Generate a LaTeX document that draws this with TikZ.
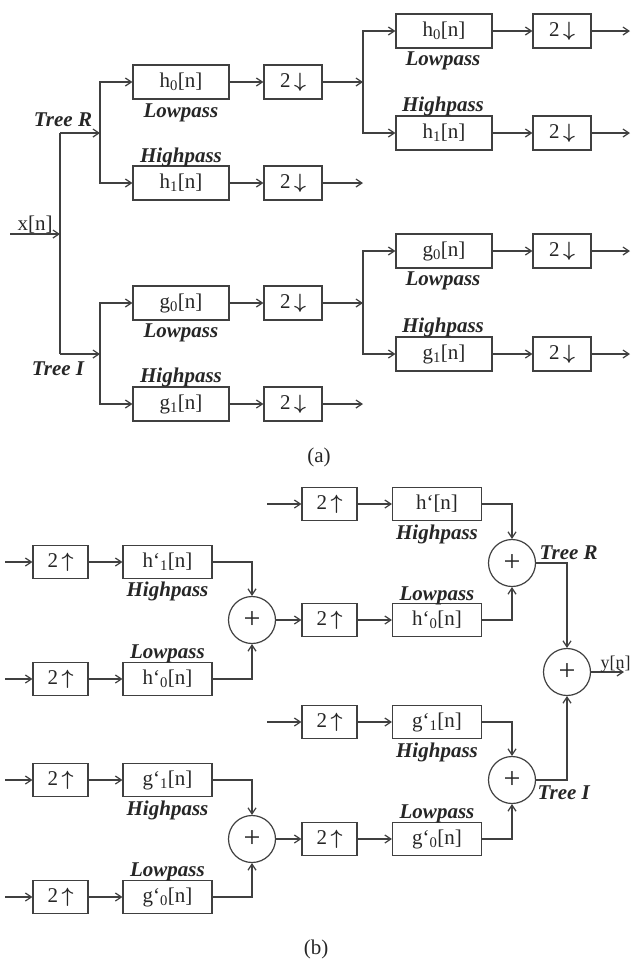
\documentclass[tikz,border=0pt]{standalone}
\usepackage{fontspec}
\setmainfont{Liberation Serif}
\usetikzlibrary{arrows.meta}
\newcommand{\dnarr}{\,{\boldmath$\downarrow$}}
\newcommand{\uparr}{\,{\boldmath$\uparrow$}}
\begin{document}
\begin{tikzpicture}[x=1pt,y=-1pt,
  line width=1.2pt, draw=black!75,
  >={Straight Barb[length=6pt,width=8pt]},
  every node/.style={text=black!85, font=\fontsize{21}{24}\selectfont},
  filt/.style={draw=black!75, rectangle, minimum width=96pt, minimum height=34pt, inner sep=0pt},
  dec/.style={draw=black!75, rectangle, minimum width=58pt, minimum height=34pt, inner sep=0pt},
  filtb/.style={draw=black!75, rectangle, minimum width=89pt, minimum height=33pt, inner sep=0pt},
  upb/.style={draw=black!75, rectangle, minimum width=55pt, minimum height=33pt, inner sep=0pt},
  sumc/.style={draw=black!75, circle, minimum size=47pt, inner sep=0pt, font=\fontsize{30}{30}\selectfont},
  lbl/.style={anchor=base, inner sep=0pt, font=\fontsize{21}{24}\selectfont\bfseries\itshape},
  lblw/.style={anchor=base west, inner sep=0pt, font=\fontsize{21}{24}\selectfont\bfseries\itshape},
  plain/.style={anchor=base, inner sep=0pt}
]
\useasboundingbox (0,0) rectangle (632,962);

% ---------------- (a) ----------------
\node[plain] (xn) at (35,230) {x[n]};
\coordinate (xin) at (10,234);
\coordinate (j0) at (60,234);
\coordinate (jR) at (60,133);
\coordinate (jI) at (60,354);
\coordinate (bR) at (100,133);
\coordinate (bI) at (100,354);
\draw[->] (xin) -- (j0);
\draw (jR) -- (jI);
\draw[->] (jR) -- (bR);
\draw[->] (jI) -- (bI);
\node[lbl] (treeRa) at (63,126) {Tree R};
\node[lbl] (treeIa) at (58,375) {Tree I};

% tree R level 1
\node[filt] (hR0) at (181,82) {h\textsubscript{0}[n]};
\node[dec] (dR0) at (293,82) {2\dnarr};
\node[filt] (hR1) at (181,183) {h\textsubscript{1}[n]};
\node[dec] (dR1) at (293,183) {2\dnarr};
\node[lbl] (lR0) at (181,117) {Lowpass};
\node[lbl] (lR1) at (181,162) {Highpass};
\draw[->] (bR) |- (hR0.west);
\draw[->] (bR) |- (hR1.west);
\draw[->] (hR0) -- (dR0);
\draw[->] (hR1) -- (dR1);
\coordinate (cR) at (363,82);
\coordinate (oR1) at (363,183);
\draw[->] (dR0) -- (cR);
\draw[->] (dR1) -- (oR1);

% tree R level 2
\node[filt] (hh0) at (444,31) {h\textsubscript{0}[n]};
\node[dec] (dh0) at (562,31) {2\dnarr};
\node[filt] (hh1) at (444,133) {h\textsubscript{1}[n]};
\node[dec] (dh1) at (562,133) {2\dnarr};
\node[lbl] (lh0) at (443,65) {Lowpass};
\node[lbl] (lh1) at (443,111) {Highpass};
\draw[->] (cR) |- (hh0.west);
\draw[->] (cR) |- (hh1.west);
\draw[->] (hh0) -- (dh0);
\draw[->] (hh1) -- (dh1);
\coordinate (oh0) at (630,31);
\coordinate (oh1) at (630,133);
\draw[->] (dh0) -- (oh0);
\draw[->] (dh1) -- (oh1);

% tree I level 1
\node[filt] (gI0) at (181,303) {g\textsubscript{0}[n]};
\node[dec] (dI0) at (293,303) {2\dnarr};
\node[filt] (gI1) at (181,404) {g\textsubscript{1}[n]};
\node[dec] (dI1) at (293,404) {2\dnarr};
\node[lbl] (lI0) at (181,337) {Lowpass};
\node[lbl] (lI1) at (181,382) {Highpass};
\draw[->] (bI) |- (gI0.west);
\draw[->] (bI) |- (gI1.west);
\draw[->] (gI0) -- (dI0);
\draw[->] (gI1) -- (dI1);
\coordinate (cI) at (363,303);
\coordinate (oI1) at (363,404);
\draw[->] (dI0) -- (cI);
\draw[->] (dI1) -- (oI1);

% tree I level 2
\node[filt] (gg0) at (444,251) {g\textsubscript{0}[n]};
\node[dec] (dg0) at (562,251) {2\dnarr};
\node[filt] (gg1) at (444,354) {g\textsubscript{1}[n]};
\node[dec] (dg1) at (562,354) {2\dnarr};
\node[lbl] (lg0) at (443,285) {Lowpass};
\node[lbl] (lg1) at (443,332) {Highpass};
\draw[->] (cI) |- (gg0.west);
\draw[->] (cI) |- (gg1.west);
\draw[->] (gg0) -- (dg0);
\draw[->] (gg1) -- (dg1);
\coordinate (og0) at (630,251);
\coordinate (og1) at (630,354);
\draw[->] (dg0) -- (og0);
\draw[->] (dg1) -- (og1);

\node[plain] (capa) at (319,462) {(a)};

% ---------------- (b) ----------------
% left column, h part
\coordinate (in1) at (5,562);
\coordinate (in2) at (5,679);
\coordinate (in3) at (5,780);
\coordinate (in4) at (5,897);
\node[upb] (u1) at (60.5,562) {2\uparr};
\node[filtb] (f1) at (167.5,562) {h‘\textsubscript{1}[n]};
\node[upb] (u2) at (60.5,679) {2\uparr};
\node[filtb] (f2) at (167.5,679) {h‘\textsubscript{0}[n]};
\node[lbl] (lf1) at (167.5,596) {Highpass};
\node[lbl] (lf2) at (167.5,658) {Lowpass};
\node[sumc] (s1) at (252,620) {+};
\draw[->] (in1) -- (u1);
\draw[->] (u1) -- (f1);
\draw[->] (in2) -- (u2);
\draw[->] (u2) -- (f2);
\draw[->] (f1.east) -| (s1.north);
\draw[->] (f2.east) -| (s1.south);

% left column, g part
\node[upb] (u3) at (60.5,780) {2\uparr};
\node[filtb] (f3) at (167.5,780) {g‘\textsubscript{1}[n]};
\node[upb] (u4) at (60.5,897) {2\uparr};
\node[filtb] (f4) at (167.5,897) {g‘\textsubscript{0}[n]};
\node[lbl] (lf3) at (167.5,815) {Highpass};
\node[lbl] (lf4) at (167.5,876) {Lowpass};
\node[sumc] (s2) at (252,839) {+};
\draw[->] (in3) -- (u3);
\draw[->] (u3) -- (f3);
\draw[->] (in4) -- (u4);
\draw[->] (u4) -- (f4);
\draw[->] (f3.east) -| (s2.north);
\draw[->] (f4.east) -| (s2.south);

% right column, tree R
\coordinate (in5) at (267,504);
\node[upb] (u5) at (329.5,504) {2\uparr};
\node[filtb] (f5) at (437,504) {h‘[n]};
\node[upb] (u6) at (329.5,620) {2\uparr};
\node[filtb] (f6) at (437,620) {h‘\textsubscript{0}[n]};
\node[lbl] (lf5) at (437,539) {Highpass};
\node[lbl] (lf6) at (437,600) {Lowpass};
\node[sumc] (sR) at (512,563) {+};
\draw[->] (in5) -- (u5);
\draw[->] (u5) -- (f5);
\draw[->] (s1) -- (u6);
\draw[->] (u6) -- (f6);
\draw[->] (f5.east) -| (sR.north);
\draw[->] (f6.east) -| (sR.south);
\node[lblw] (treeRb) at (539,559) {Tree R};

% right column, tree I
\coordinate (in7) at (267,722);
\node[upb] (u7) at (329.5,722) {2\uparr};
\node[filtb] (f7) at (437,722) {g‘\textsubscript{1}[n]};
\node[upb] (u8) at (329.5,839) {2\uparr};
\node[filtb] (f8) at (437,839) {g‘\textsubscript{0}[n]};
\node[lbl] (lf7) at (437,757) {Highpass};
\node[lbl] (lf8) at (437,818) {Lowpass};
\node[sumc] (sI) at (512,780) {+};
\draw[->] (in7) -- (u7);
\draw[->] (u7) -- (f7);
\draw[->] (s2) -- (u8);
\draw[->] (u8) -- (f8);
\draw[->] (f7.east) -| (sI.north);
\draw[->] (f8.east) -| (sI.south);
\node[lblw] (treeIb) at (537,799) {Tree I};

% final sum
\node[sumc] (sF) at (567,672) {+};
\draw[->] (sR.east) -| (sF.north);
\draw[->] (sI.east) -| (sF.south);
\coordinate (yout) at (624,672);
\draw[->] (sF) -- (yout);
\node[anchor=base west, inner sep=0pt, font=\fontsize{18}{20}\selectfont] (yn) at (600,668) {y[n]};

\node[plain] (capb) at (316,954) {(b)};
\end{tikzpicture}
\end{document}
